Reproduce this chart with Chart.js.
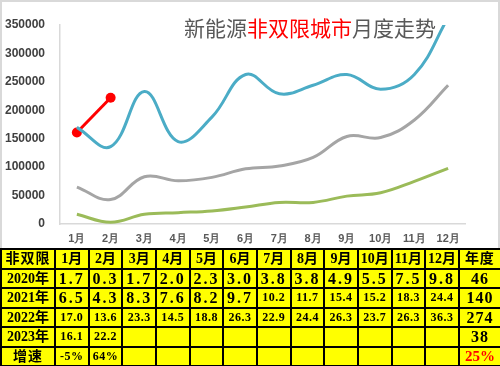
<!DOCTYPE html>
<html><head><meta charset="utf-8">
<script src="https://cdn.jsdelivr.net/npm/chart.js@4.4.1/dist/chart.umd.min.js"></script>
<style>
html,body{margin:0;padding:0;background:#fff;}
body{width:500px;height:366px;overflow:hidden;position:relative;}
#wrap{position:absolute;left:0;top:0;width:500px;height:248px;}
#frame{position:absolute;left:0;top:0;width:496px;height:248px;border:2px solid #d9d9d9;border-bottom:none;pointer-events:none;box-sizing:content-box;}
#title{position:absolute;left:184px;top:13px;font:21px "Noto Sans CJK SC",sans-serif;color:#595959;white-space:nowrap;line-height:28px;}
#title .r{color:#ff0000;}
table{position:absolute;top:248px;left:0;border-collapse:collapse;table-layout:fixed;width:500px;background:#ffff00;}
td{border:2px solid #000;height:17.5px;padding:0;text-align:center;vertical-align:middle;font-family:"Liberation Serif","Noto Sans CJK SC",serif;font-weight:bold;color:#000;line-height:15px;white-space:nowrap;overflow:hidden;}
td.h{font-size:14px;letter-spacing:1px;}
td.y{font-size:14px;letter-spacing:0px;}
td.b{font-size:16px;letter-spacing:2px;}
td.s{font-size:12px;letter-spacing:0.5px;}
td.red{color:#ff0000;font-size:15px;}
</style>
</head><body>
<div id="wrap"><canvas id="c" width="500" height="248"></canvas></div>
<div id="frame"></div>
<div id="title">新能源<span class="r">非双限城市</span>月度走势</div>
<table id="tbl"></table>
<script>
const months = ['1月','2月','3月','4月','5月','6月','7月','8月','9月','10月','11月','12月'];
const years = ['2020年','2021年','2022年','2023年'];
const s2020 = [1.7,0.3,1.7,2.0,2.3,3.0,3.8,3.8,4.9,5.5,7.5,9.8];
const s2021 = [6.5,4.3,8.3,7.6,8.2,9.7,10.2,11.7,15.4,15.2,18.3,24.4];
const s2022 = [17.0,13.6,23.3,14.5,18.8,26.3,22.9,24.4,26.3,23.7,26.3,36.3];
const s2023 = [16.1,22.2];
const annual = [46,140,274,38];
const growth = ['-5%','64%'];
const annualGrowth = '25%';
const unit = 10000;
const yTicks = [0,50000,100000,150000,200000,250000,300000,350000];

const toUnits = a => a.map(v => Math.round(v*unit));

new Chart(document.getElementById('c'), {
  type:'line',
  data:{
    labels: months,
    datasets:[
      {label:'2020年', data:toUnits(s2020), borderColor:'#9bbb59', borderWidth:3, pointRadius:0, tension:0.4},
      {label:'2021年', data:toUnits(s2021), borderColor:'#a5a5a5', borderWidth:3, pointRadius:0, tension:0.4},
      {label:'2022年', data:toUnits(s2022), borderColor:'#4bacc6', borderWidth:3, pointRadius:0, tension:0.4},
      {label:'2023年', data:toUnits(s2023), borderColor:'#ff0000', backgroundColor:'#ff0000', borderWidth:3, pointRadius:5, pointBorderWidth:0, tension:0}
    ]
  },
  options:{
    responsive:false, animation:false,
    layout:{padding:{left:0,right:35,top:25,bottom:0}},
    plugins:{legend:{display:false}, tooltip:{enabled:false}},
    scales:{
      x:{
        offset:true,
        grid:{display:false, drawTicks:false},
        border:{color:'#d9d9d9', width:1.5},
        ticks:{font:{family:'Liberation Sans, Arial', size:11, weight:'bold'}, color:'#595959', padding:8, maxRotation:0, autoSkip:false},
        afterFit:(s)=>{s.height=24;}
      },
      y:{
        min:0, max:350000,
        afterBuildTicks:(s)=>{s.ticks = yTicks.map(v=>({value:v}));},
        grid:{display:false, drawTicks:false},
        border:{color:'#d9d9d9', width:1.5},
        ticks:{font:{family:'Liberation Sans, Arial', size:12, weight:'bold'}, color:'#404040', padding:15, callback:(v)=>String(v)},
        afterFit:(s)=>{s.width=60;}
      }
    }
  }
});

// table
const tbl = document.getElementById('tbl');
let html = '<colgroup><col style="width:54px">';
for (let i=0;i<12;i++) html += '<col style="width:33.67px">';
html += '<col style="width:42px"></colgroup>';
html += '<tr><td class="h">非双限</td>' + months.map(m=>'<td class="y">'+m+'</td>').join('') + '<td class="h">年度</td></tr>';
const series = [s2020,s2021,s2022,s2023];
series.forEach((s,yi)=>{
  html += '<tr><td class="y">'+years[yi]+'</td>';
  for (let i=0;i<12;i++){
    if (i < s.length){
      const v = s[i];
      const cls = (v>=10 || yi>=2) ? 's' : 'b';
      html += '<td class="'+cls+'">'+v.toFixed(1)+'</td>';
    } else html += '<td></td>';
  }
  html += '<td class="b" style="letter-spacing:1px">'+annual[yi]+'</td></tr>';
});
html += '<tr><td class="h">增速</td>';
for (let i=0;i<12;i++) html += '<td class="s">'+(growth[i]||'')+'</td>';
html += '<td class="red">'+annualGrowth+'</td></tr>';
tbl.innerHTML = html;
</script>
</body></html>
